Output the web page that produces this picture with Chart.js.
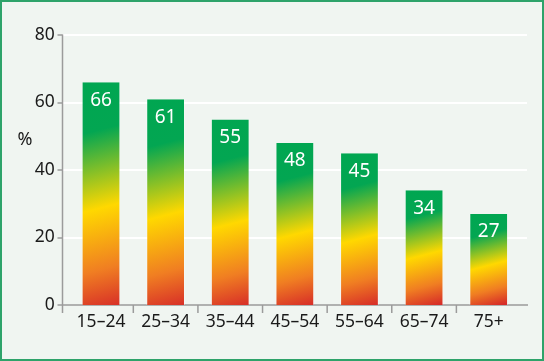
<!DOCTYPE html>
<html><head><meta charset="utf-8">
<script src="https://cdn.jsdelivr.net/npm/chart.js@4.4.1/dist/chart.umd.min.js"></script>
<style>html,body{margin:0;padding:0;background:#f0f5f1;}#wrap{width:544px;height:361px;position:relative;}</style>
</head><body><div id="wrap"><canvas id="c" width="544" height="361"></canvas></div>
<script>
const categories = ['15–24','25–34','35–44','45–54','55–64','65–74','75+'];
const values = [66, 61, 55, 48, 45, 34, 27];
const yTicks = [0, 20, 40, 60, 80];
const unitLabel = '%';

const FONT = '"Noto Sans", sans-serif';
const AXIS = '#9b9b9b';

function barGradient(ctx) {
  const chart = ctx.chart;
  const xs = chart.scales.x, ys = chart.scales.y;
  if (!xs || !ys || ctx.dataIndex === undefined || xs.width === undefined) return '#00a651';
  const v = ctx.raw;
  const top = ys.getPixelForValue(v), bot = ys.getPixelForValue(0);
  const cx = xs.getPixelForValue(ctx.dataIndex);
  const H = bot - top;
  if (!isFinite(top) || !isFinite(cx) || H <= 0) return '#00a651';
  const d = 0.13 * H;
  const g = chart.ctx.createLinearGradient(cx - d, top, cx + d, bot);
  g.addColorStop(0, '#00a651');
  g.addColorStop(0.23, '#03a652');
  g.addColorStop(0.56, '#ffd800');
  g.addColorStop(0.82, '#f07e22');
  g.addColorStop(1, '#d62b28');
  return g;
}

const framePlugin = {
  id: 'frame',
  beforeDraw(chart) {
    const c = chart.ctx;
    c.save();
    c.fillStyle = '#f0f5f1';
    c.fillRect(0, 0, chart.width, chart.height);
    c.strokeStyle = '#2ea36a';
    c.lineWidth = 2;
    c.strokeRect(1, 1, chart.width - 2, chart.height - 2);
    c.restore();
  },
  beforeDatasetsDraw(chart) {
    const c = chart.ctx, ys = chart.scales.y, xs = chart.scales.x;
    const axX = 62.5, rightX = 527;
    const y0 = ys.getPixelForValue(0);
    c.save();
    c.strokeStyle = '#ffffff';
    c.lineWidth = 2;
    yTicks.forEach(t => {
      if (t === 0) return;
      const y = Math.round(ys.getPixelForValue(t));
      c.beginPath(); c.moveTo(axX, y); c.lineTo(rightX, y); c.stroke();
    });
    c.strokeStyle = AXIS;
    c.lineWidth = 1.5;
    c.beginPath();
    c.moveTo(axX, ys.getPixelForValue(80) - 0.5);
    c.lineTo(axX, y0 + 8);
    c.moveTo(axX, y0);
    c.lineTo(rightX + 1, y0);
    c.stroke();
    yTicks.forEach(t => {
      const y = Math.round(ys.getPixelForValue(t));
      c.beginPath(); c.moveTo(axX - 5, y); c.lineTo(axX, y); c.stroke();
    });
    for (let i = 1; i < categories.length; i++) {
      const bx = (xs.getPixelForValue(i - 1) + xs.getPixelForValue(i)) / 2;
      c.beginPath(); c.moveTo(bx, y0); c.lineTo(bx, y0 + 8); c.stroke();
    }
    c.fillStyle = '#1a1a1a';
    c.font = '18px ' + FONT;
    c.textAlign = 'center';
    c.textBaseline = 'middle';
    c.fillText(unitLabel, 25, 140);
    c.restore();
  },
  afterDatasetsDraw(chart) {
    const c = chart.ctx;
    const meta = chart.getDatasetMeta(0);
    c.save();
    c.fillStyle = '#ffffff';
    c.font = '19px ' + FONT;
    c.textAlign = 'center';
    c.textBaseline = 'middle';
    meta.data.forEach((el, i) => {
      c.fillText(String(values[i]), el.x, el.y + 18);
    });
    c.restore();
  }
};

new Chart(document.getElementById('c'), {
  type: 'bar',
  data: {
    labels: categories,
    datasets: [{
      data: values,
      backgroundColor: barGradient,
      borderColor: 'rgba(255,255,255,0.3)',
      borderWidth: { left: 1, right: 1, top: 0, bottom: 0 },
      categoryPercentage: 1,
      barPercentage: 0.6
    }]
  },
  options: {
    responsive: false,
    animation: false,
    devicePixelRatio: 1,
    layout: { padding: { left: 0, right: 23, top: 35, bottom: 0 } },
    plugins: { legend: { display: false }, tooltip: { enabled: false } },
    scales: {
      x: {
        grid: { display: false, drawTicks: false },
        border: { display: false },
        ticks: { color: '#1a1a1a', font: { family: FONT, size: 17.5 }, padding: 7, maxRotation: 0, autoSkip: false },
        afterFit(s) { s.height = 56; }
      },
      y: {
        min: 0, max: 80,
        afterBuildTicks(s) { s.ticks = yTicks.map(v => ({ value: v })); },
        grid: { display: false, drawTicks: false },
        border: { display: false },
        ticks: { color: '#1a1a1a', font: { family: FONT, size: 17.5 }, padding: 14 },
        afterFit(s) { s.width = 68.7; }
      }
    }
  },
  plugins: [framePlugin]
});
</script>
</body></html>
